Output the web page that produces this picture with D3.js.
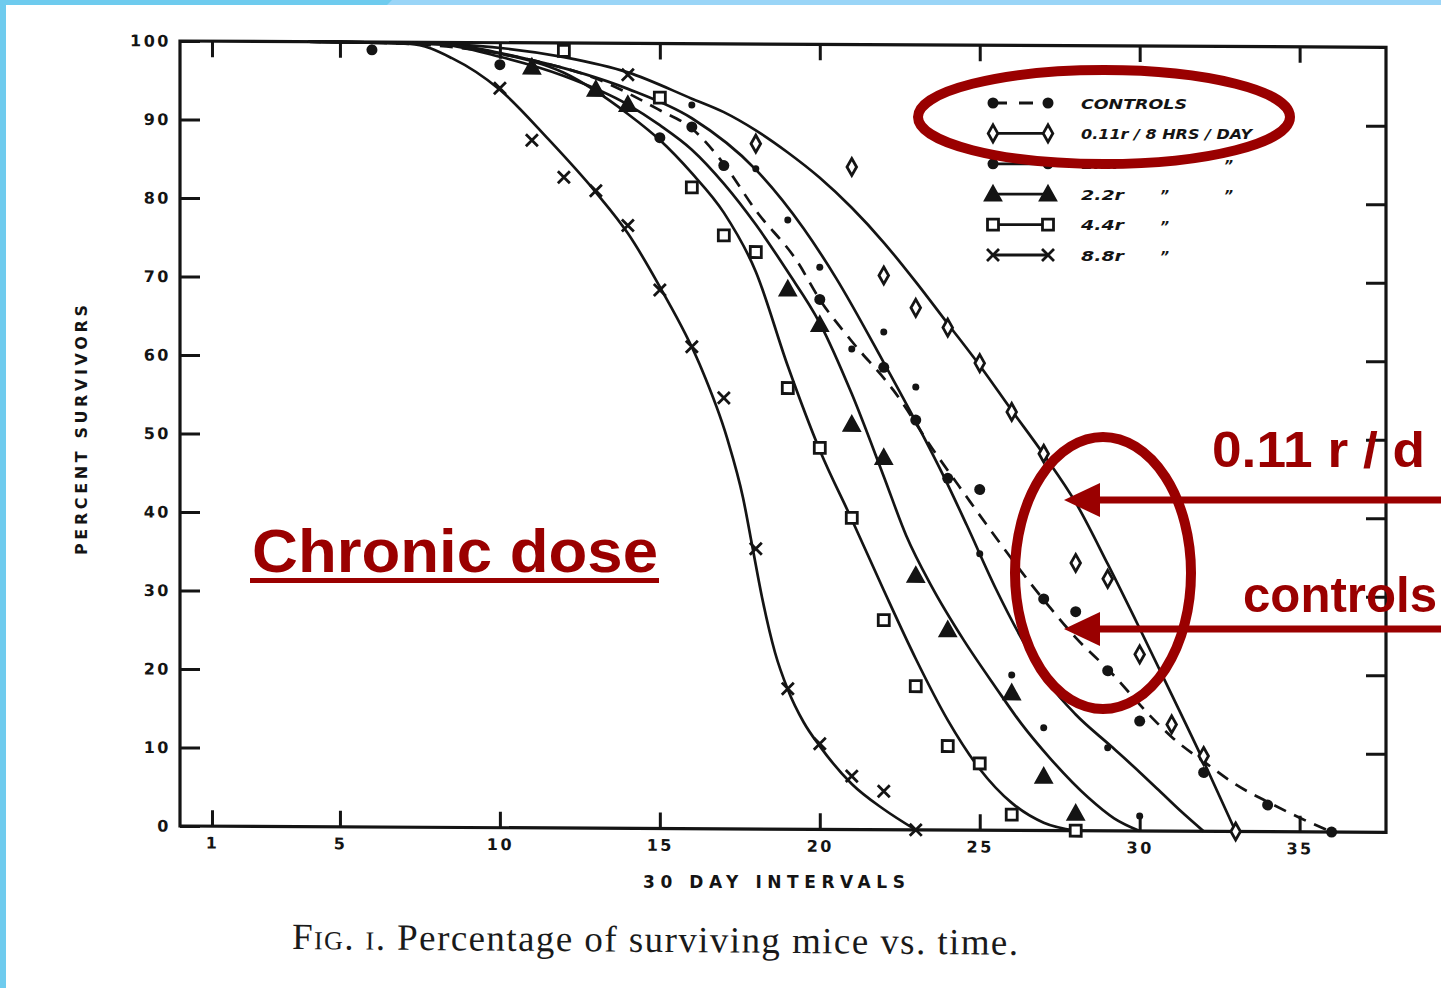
<!DOCTYPE html>
<html>
<head>
<meta charset="utf-8">
<script src="https://cdn.jsdelivr.net/npm/d3@7"></script>
<style>
  body { margin: 0; background: #fff; }
  svg { display: block; }
</style>
</head>
<body>
<div id="chart"></div>
<script>
const width = 1441, height = 988;
const red = "#9a0000", ink = "#141414";

// axis ticks
const xTicks = [1, 5, 10, 15, 20, 25, 30, 35];
const yTicks = [0, 10, 20, 30, 40, 50, 60, 70, 80, 90, 100];

// fitted survival curves, [30 day interval, percent survivors]
const ctrlCurve = [[4,100],[7,99.8],[9,99.2],[11,97.8],[13,95.5],[15,91.5],[16,89.2],[17,84.7],[18,78.8],[19.3,72.3],[20,67.5],[21,62.2],[22.3,56],[23.5,48.7],[24.6,42.4],[25.2,39],[26.2,33.5],[27.2,28.4],[28,24.6],[29.1,20.2],[30.3,14.8],[31,12],[32.1,8.6],[33,6],[34.1,3.6],[35,1.8],[36,0]];
const r011Curve = [[4,100],[8,99.8],[12,98.2],[14,96.3],[16,93],[17,91.3],[18,89],[19,86.2],[20,83],[21,79.2],[22,74.8],[23,69.8],[24,64.5],[25,59.2],[26,53.5],[27,47.9],[28,41.8],[29,34],[30,25.8],[31,17.4],[32,8.9],[33,0]];
const r11Curve = [[4,100],[8,99.8],[11,97.8],[14,94.2],[16,90.5],[18,84],[19.5,76.5],[20.5,70.3],[22,59.5],[23,52],[24,44],[24.6,38.8],[25.5,30.8],[26.3,24.5],[27.2,18.5],[28,14.8],[29.1,10.8],[30,7.5],[30.6,5.2],[31.3,2.5],[32,0]];
const r22Curve = [[4,100],[8,99.8],[10,98.2],[12,95.8],[14,92.2],[15,89.6],[16,86.5],[17,82.2],[18,77],[19,71],[20,64.5],[21,55.5],[22,45],[22.7,37.5],[23.5,31],[24.5,24.2],[25.5,18.2],[26.3,13.6],[27.2,9.2],[28.4,4.2],[29.2,1.6],[30,0]];
const r44Curve = [[4,100],[8,99.8],[10,98.6],[12,96.2],[14,91],[15,87.7],[16,83.5],[17,78.5],[18,71],[19,59],[20,48.3],[21,39.5],[22,30.5],[23,21.8],[24,14],[25,7.8],[26,3.5],[27,1],[28,0]];
const r88Curve = [[4,100],[7.2,99.8],[8.5,98],[10,94],[11.5,87.8],[13,81],[14,75.8],[15,69],[16.25,59.1],[17.1,49.8],[17.6,42.2],[17.9,35.8],[18.2,29.4],[18.6,22.5],[19,17.8],[19.5,13.6],[20,10.6],[21,5.8],[22,2.6],[23,0]];

// observed points
const ctrlPts = [[6,99],[10,97.2],[15,88],[16,89.4],[17,84.5],[20,67.5],[22,58.9],[23,52.2],[24,44.8],[25,43.4],[27,29.5],[28,27.9],[29,20.4],[30,14],[32,7.5],[34,3.4],[36,0]];
const r011Pts = [[18,87.3],[21,84.4],[22,70.6],[23,66.5],[24,64],[25,59.5],[26,53.3],[27,48],[28,34.1],[29,32.1],[30,22.5],[31,13.6],[32,9.6],[33,0]];
const r11Pts = [[16,92.2],[18,84.1],[19,77.6],[20,71.6],[21,61.2],[22,63.4],[23,56.4],[25,35.2],[26,19.8],[27,13.1],[29,10.6],[30,1.9]];
const r22Pts = [[11,96.9],[13,94.1],[14,92.2],[19,68.8],[20,64.3],[21,51.6],[22,47.4],[23,32.4],[24,25.5],[26,17.5],[27,6.9],[28,2.2]];
const r44Pts = [[12,99],[15,93.1],[16,81.7],[17,75.6],[18,73.5],[19,56.2],[20,48.6],[21,39.7],[22,26.7],[23,18.3],[24,10.7],[25,8.5],[26,2],[28,0]];
const r88Pts = [[10,94.2],[11,87.6],[12,82.9],[13,81.2],[14,76.8],[14,96],[15,68.6],[16,61.4],[17,54.9],[18,35.7],[19,17.9],[20,10.9],[21,6.8],[22,4.9],[23,0]];

const legendLabels = ["CONTROLS", "0.11r / 8 HRS / DAY", "1.1r", "2.2r", "4.4r", "8.8r"];
const legendDitto = [0, 0, 2, 2, 1, 1];

const marks = {
  circle: "M0,-5.5A5.5,5.5 0 1,1 0,5.5A5.5,5.5 0 1,1 0,-5.5Z",
  dot: "M0,-3.5A3.5,3.5 0 1,1 0,3.5A3.5,3.5 0 1,1 0,-3.5Z",
  diamond: "M0,-8.5L4.8,0L0,8.5L-4.8,0Z",
  triangle: "M0,-7.5L7.5,6L-7.5,6Z",
  square: "M-5.5,-5.5H5.5V5.5H-5.5Z",
  cross: "M-6,-6L6,6M-6,6L6,-6"
};

const series = [
  {curve: ctrlCurve, pts: ctrlPts, mark: "circle", fill: ink, dash: "13,9"},
  {curve: r011Curve, pts: r011Pts, mark: "diamond", fill: "#fff", dash: null},
  {curve: r11Curve, pts: r11Pts, mark: "dot", fill: ink, dash: null},
  {curve: r22Curve, pts: r22Pts, mark: "triangle", fill: ink, dash: null},
  {curve: r44Curve, pts: r44Pts, mark: "square", fill: "#fff", dash: null},
  {curve: r88Curve, pts: r88Pts, mark: "cross", fill: "none", dash: null}
];

const svg = d3.select("#chart").append("svg")
  .attr("width", width).attr("height", height);

// blue slide frame
svg.append("rect").attr("x", 0).attr("y", 0).attr("width", width).attr("height", 5).attr("fill", "#9ad5f7");
svg.append("path").attr("d", "M0,0H392L387,5H0Z").attr("fill", "#6ecbee");
svg.append("rect").attr("x", 0).attr("y", 0).attr("width", 6).attr("height", height).attr("fill", "#6ecbee");

// plot, slightly skewed like the scan
const g = svg.append("g").attr("transform", "translate(180,0) skewY(0.3)");

const xScale = d3.scaleLinear().domain([0, 37.7]).range([0, 1206]);
const yScale = d3.scaleLinear().domain([0, 100]).range([826, 41]);

const tickFont = sel => sel.selectAll("text")
  .attr("font-family", "DejaVu Sans").attr("font-weight", "bold")
  .attr("font-size", 16).attr("letter-spacing", 2.5).attr("fill", ink);

const styleAxis = sel => {
  sel.select(".domain").remove();
  sel.selectAll("line").attr("stroke", ink).attr("stroke-width", 3);
};

g.append("g").call(d3.axisLeft(yScale).tickValues(yTicks).tickSize(-20).tickPadding(9))
  .call(styleAxis).call(tickFont);
g.append("g").attr("transform", "translate(1206,0)")
  .call(d3.axisRight(yScale).tickValues(yTicks.filter(t => t > 0 && t < 100)).tickSize(-20).tickFormat(""))
  .call(styleAxis);
g.append("g").attr("transform", "translate(0,826)")
  .call(d3.axisBottom(xScale).tickValues(xTicks).tickSize(-16).tickPadding(11))
  .call(styleAxis).call(tickFont);
g.append("g").attr("transform", "translate(0,41)")
  .call(d3.axisTop(xScale).tickValues(xTicks).tickSize(-16).tickFormat(""))
  .call(styleAxis);

g.append("rect")
  .attr("x", xScale(0)).attr("y", yScale(100))
  .attr("width", xScale(37.7) - xScale(0)).attr("height", yScale(0) - yScale(100))
  .attr("fill", "none").attr("stroke", ink).attr("stroke-width", 3.2);

const line = d3.line()
  .x(d => xScale(d[0])).y(d => yScale(d[1]))
  .curve(d3.curveMonotoneX);

series.forEach(s => {
  g.append("path").datum(s.curve)
    .attr("d", line)
    .attr("fill", "none").attr("stroke", ink).attr("stroke-width", 2.7)
    .attr("stroke-dasharray", s.dash);
});

series.forEach(s => {
  g.append("g").selectAll("path").data(s.pts).enter()
    .append("path")
    .attr("transform", d => "translate(" + xScale(d[0]) + "," + yScale(d[1]) + ")")
    .attr("d", marks[s.mark])
    .attr("fill", s.fill).attr("stroke", ink)
    .attr("stroke-width", s.mark === "dot" || s.mark === "circle" ? 0 : 2.8);
});

// legend (hand-lettered widths of the labels)
const legendTextLen = [106, 171, 40, 43, 43, 43];
const legendY = d3.scalePoint().domain(d3.range(legendLabels.length)).range([103, 255]);
const leg = svg.append("g");
series.forEach((s, i) => {
  const y = legendY(i);
  leg.append("line").attr("x1", 993).attr("x2", 1048).attr("y1", y).attr("y2", y)
    .attr("stroke", ink).attr("stroke-width", 2.8).attr("stroke-dasharray", s.dash ? "14,12" : null);
  [993, 1048].forEach(x => {
    leg.append("path").attr("transform", "translate(" + x + "," + y + ")")
      .attr("d", marks[s.mark === "dot" ? "circle" : s.mark])
      .attr("fill", s.fill).attr("stroke", ink)
      .attr("stroke-width", s.mark === "dot" || s.mark === "circle" ? 0 : 2.8);
  });
  leg.append("text").attr("x", 1081).attr("y", y + 5.5)
    .attr("font-family", "DejaVu Sans").attr("font-weight", "bold").attr("font-style", "italic")
    .attr("font-size", 14).attr("fill", ink)
    .attr("textLength", legendTextLen[i]).attr("lengthAdjust", "spacingAndGlyphs")
    .text(legendLabels[i]);
  d3.range(legendDitto[i]).forEach(k => {
    leg.append("text").attr("x", 1160 + k * 64).attr("y", y + 6)
      .attr("font-family", "DejaVu Sans").attr("font-weight", "bold").attr("font-style", "italic")
      .attr("font-size", 14).attr("fill", ink).text("\u201D");
  });
});

// axis titles
svg.append("text")
  .attr("transform", "translate(87,430) rotate(-90)")
  .attr("text-anchor", "middle")
  .attr("font-family", "DejaVu Sans").attr("font-weight", "bold").attr("font-size", 16)
  .attr("textLength", 250).attr("lengthAdjust", "spacing").attr("fill", ink)
  .text("PERCENT  SURVIVORS");

svg.append("text")
  .attr("x", 643).attr("y", 888)
  .attr("font-family", "DejaVu Sans").attr("font-weight", "bold").attr("font-size", 17)
  .attr("textLength", 262).attr("lengthAdjust", "spacing").attr("fill", ink)
  .text("30 DAY  INTERVALS");

// caption
const cap = svg.append("text")
  .attr("transform", "translate(292,949) rotate(0.45)")
  .attr("font-family", "Liberation Serif").attr("font-size", 37).attr("fill", "#1a1a1a")
  .attr("textLength", 726).attr("lengthAdjust", "spacing");
cap.append("tspan").attr("font-variant", "small-caps").text("Fig. i. ");
cap.append("tspan").text("Percentage of surviving mice vs. time.");

// red annotations
svg.append("text").attr("x", 252).attr("y", 572)
  .attr("font-family", "Liberation Sans").attr("font-weight", "bold").attr("font-size", 62)
  .attr("textLength", 406).attr("lengthAdjust", "spacingAndGlyphs").attr("fill", red)
  .text("Chronic dose");
svg.append("rect").attr("x", 250).attr("y", 578).attr("width", 409).attr("height", 5).attr("fill", red);

svg.append("ellipse").attr("cx", 1104).attr("cy", 117).attr("rx", 186).attr("ry", 47)
  .attr("fill", "none").attr("stroke", red).attr("stroke-width", 10);
svg.append("ellipse").attr("cx", 1103).attr("cy", 573).attr("rx", 88).attr("ry", 136)
  .attr("fill", "none").attr("stroke", red).attr("stroke-width", 10);

svg.append("text").attr("x", 1212).attr("y", 467)
  .attr("font-family", "Liberation Sans").attr("font-weight", "bold").attr("font-size", 50)
  .attr("textLength", 213).attr("lengthAdjust", "spacingAndGlyphs").attr("fill", red)
  .text("0.11 r / d");
svg.append("text").attr("x", 1243).attr("y", 612)
  .attr("font-family", "Liberation Sans").attr("font-weight", "bold").attr("font-size", 50)
  .attr("textLength", 194).attr("lengthAdjust", "spacingAndGlyphs")
  .attr("fill", red).text("controls");

[500, 629].forEach(y => {
  svg.append("line").attr("x1", 1441).attr("x2", 1092).attr("y1", y).attr("y2", y)
    .attr("stroke", red).attr("stroke-width", 7);
  svg.append("path").attr("d", "M1064," + y + "L1100," + (y - 17) + "L1100," + (y + 17) + "Z")
    .attr("fill", red);
});
</script>
</body>
</html>
